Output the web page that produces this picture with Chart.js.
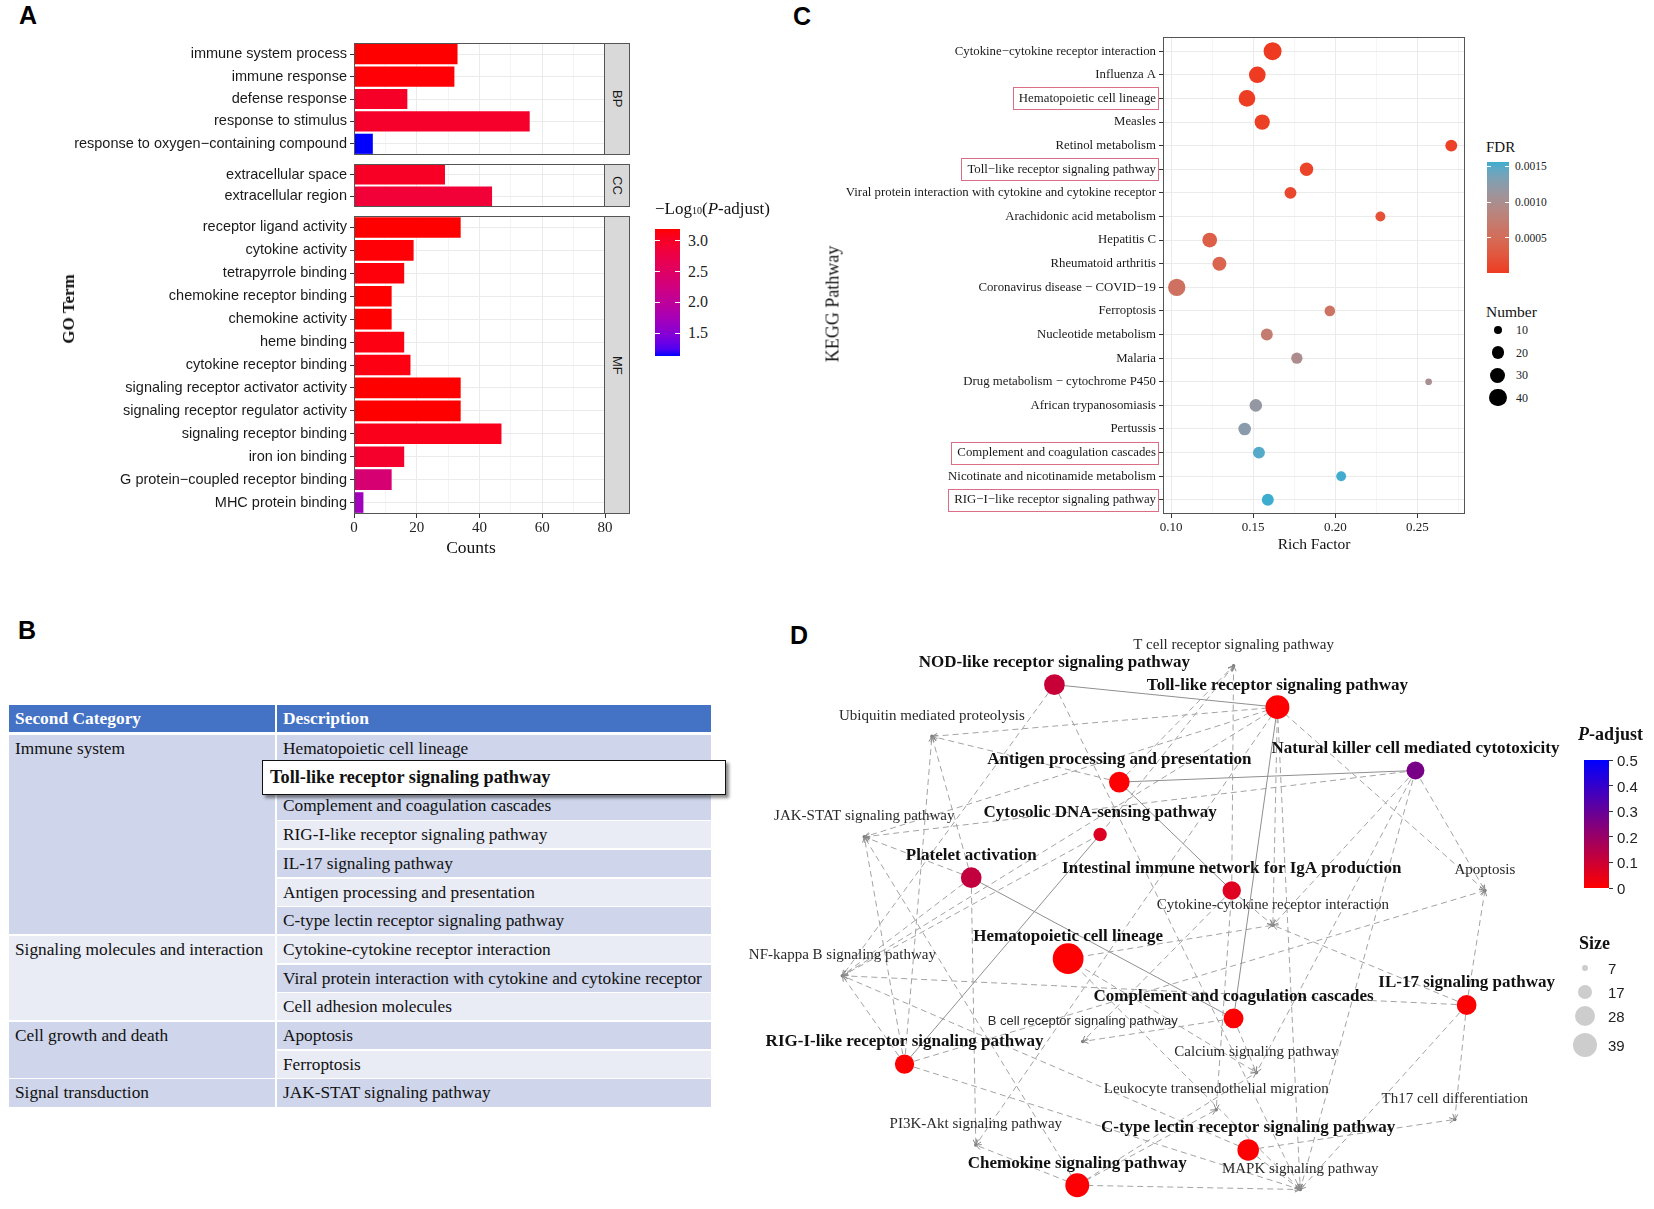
<!DOCTYPE html>
<html lang="en">
<head>
<meta charset="UTF-8">
<title>GO / KEGG enrichment</title>
<script src="https://cdn.jsdelivr.net/npm/chart.js"></script>
<style>
  body { margin: 0; background: #fff; }
  #page { position: relative; width: 1654px; height: 1209px; overflow: hidden; background: #fff;
          font-family: 'Liberation Serif', 'Times New Roman', serif; color: #111; }
  canvas { position: absolute; }
  .letter { position: absolute; font: bold 25px 'Liberation Sans', Arial, sans-serif; line-height: 25px; color: #000; }
  .txt { position: absolute; line-height: 1; white-space: nowrap; }
  .strip { position: absolute; background: #d9d9d9; border: 1px solid #555; box-sizing: border-box;
           writing-mode: vertical-rl; display: flex; align-items: center; justify-content: center;
           font: 13px 'Liberation Sans', Arial, sans-serif; color: #1a1a1a; }
  .cell { position: absolute; box-sizing: border-box; padding-left: 6px; font-size: 17.3px; color: #111; white-space: nowrap; }
</style>
</head>
<body>
<div id="page">
  <div class="letter" style="left:19px;top:3px">A</div>
  <div class="letter" style="left:18px;top:618px">B</div>
  <div class="letter" style="left:793px;top:4px">C</div>
  <div class="letter" style="left:790px;top:623px">D</div>

  <!-- each canvas extends 12px above (and below) its panel; layout padding puts the plot back in place -->
  <canvas id="goBP" width="625" height="136" style="left:0;top:31px"></canvas>
  <canvas id="goCC" width="625" height="67" style="left:0;top:152px"></canvas>
  <canvas id="goMF" width="625" height="350" style="left:0;top:204px"></canvas>
  <div class="strip" style="left:604px;top:43px;width:26px;height:112px">BP</div>
  <div class="strip" style="left:604px;top:164px;width:26px;height:43px">CC</div>
  <div class="strip" style="left:604px;top:216px;width:26px;height:298px">MF</div>

  <canvas id="kegg" width="671" height="529" style="left:800px;top:25px"></canvas>
  <canvas id="net" width="914" height="609" style="left:740px;top:600px"></canvas>
</div>

<script>
// ---------------- panel A: GO terms ----------------
const goBPTerms = ['immune system process', 'immune response', 'defense response', 'response to stimulus',
  'response to oxygen\u2212containing compound'];
const goBPCounts = [33, 32, 17, 56, 6];
const goBPLogP = [3.19, 3.17, 3.0, 2.98, 1.13];

const goCCTerms = ['extracellular space', 'extracellular region'];
const goCCCounts = [29, 44];
const goCCLogP = [3.02, 2.88];

const goMFTerms = ['receptor ligand activity', 'cytokine activity', 'tetrapyrrole binding', 'chemokine receptor binding',
  'chemokine activity', 'heme binding', 'cytokine receptor binding', 'signaling receptor activator activity',
  'signaling receptor regulator activity', 'signaling receptor binding', 'iron ion binding',
  'G protein\u2212coupled receptor binding', 'MHC protein binding'];
const goMFCounts = [34, 19, 16, 12, 12, 16, 18, 34, 34, 47, 16, 12, 3];
const goMFLogP = [3.19, 3.17, 3.15, 3.19, 3.19, 3.13, 3.13, 3.19, 3.19, 3.08, 2.96, 2.35, 1.7];

const countTicks = [0, 10, 20, 30, 40, 50, 60, 70, 80];
const countLabelStep = 20;
const logPTicks = [1.5, 2.0, 2.5, 3.0];

// ---------------- panel B: table ----------------
const tableHeader = ['Second Category', 'Description'];
const tableGroups = ['Immune system', 'Signaling molecules and interaction', 'Cell growth and death', 'Signal transduction'];
const tableGroupRows = [7, 3, 2, 1];
const tableDescriptions = ['Hematopoietic cell lineage', 'Toll-like receptor signaling pathway',
  'Complement and coagulation cascades', 'RIG-I-like receptor signaling pathway', 'IL-17 signaling pathway',
  'Antigen processing and presentation', 'C-type lectin receptor signaling pathway',
  'Cytokine-cytokine receptor interaction', 'Viral protein interaction with cytokine and cytokine receptor',
  'Cell adhesion molecules', 'Apoptosis', 'Ferroptosis', 'JAK-STAT signaling pathway'];
const tableHighlight = 'Toll-like receptor signaling pathway';

// ---------------- panel C: KEGG dot plot ----------------
const keggTerms = ['Cytokine\u2212cytokine receptor interaction', 'Influenza A', 'Hematopoietic cell lineage', 'Measles',
  'Retinol metabolism', 'Toll\u2212like receptor signaling pathway',
  'Viral protein interaction with cytokine and cytokine receptor', 'Arachidonic acid metabolism', 'Hepatitis C',
  'Rheumatoid arthritis', 'Coronavirus disease \u2212 COVID\u221219', 'Ferroptosis', 'Nucleotide metabolism', 'Malaria',
  'Drug metabolism \u2212 cytochrome P450', 'African trypanosomiasis', 'Pertussis',
  'Complement and coagulation cascades', 'Nicotinate and nicotinamide metabolism',
  'RIG\u2212I\u2212like receptor signaling pathway'];
const keggRich = [0.1618, 0.1525, 0.1462, 0.1555, 0.2707, 0.1825, 0.1727, 0.2275, 0.1235, 0.1294,
  0.1034, 0.1967, 0.1583, 0.1766, 0.2569, 0.1516, 0.1448, 0.1535, 0.2036, 0.1589];
const keggNumber = [43, 37, 37, 31, 19, 24, 19, 13, 29, 26, 40, 15, 19, 17, 6, 21, 21, 19, 13, 19];
const keggFDR = [0.00001, 0.00002, 0.00003, 0.00005, 0.00006, 0.00008, 0.00012, 0.00019, 0.00035, 0.00040,
  0.00057, 0.00060, 0.00072, 0.00098, 0.00102, 0.00118, 0.00125, 0.00150, 0.00155, 0.00156];
const keggHighlight = ['Hematopoietic cell lineage', 'Toll\u2212like receptor signaling pathway',
  'Complement and coagulation cascades', 'RIG\u2212I\u2212like receptor signaling pathway'];
const richTicks = [0.10, 0.125, 0.15, 0.175, 0.20, 0.225, 0.25, 0.275];
const fdrTicks = [0.0005, 0.0010, 0.0015];
const numberBreaks = [10, 20, 30, 40];

// ---------------- panel D: pathway network ----------------
const netNodes = ['NOD-like receptor signaling pathway', 'Toll-like receptor signaling pathway',
  'Natural killer cell mediated cytotoxicity', 'Antigen processing and presentation', 'Cytosolic DNA-sensing pathway',
  'Platelet activation', 'Intestinal immune network for IgA production', 'Hematopoietic cell lineage',
  'Complement and coagulation cascades', 'IL-17 signaling pathway', 'RIG-I-like receptor signaling pathway',
  'C-type lectin receptor signaling pathway', 'Chemokine signaling pathway',
  'T cell receptor signaling pathway', 'Ubiquitin mediated proteolysis', 'JAK-STAT signaling pathway', 'Apoptosis',
  'Cytokine-cytokine receptor interaction', 'NF-kappa B signaling pathway', 'B cell receptor signaling pathway',
  'Calcium signaling pathway', 'Leukocyte transendothelial migration', 'Th17 cell differentiation',
  'PI3K-Akt signaling pathway', 'MAPK signaling pathway'];
// layout coordinates (0-100 units)
const netX = [34.4, 58.8, 73.9, 41.5, 39.4, 25.3, 53.8, 35.9, 54.0, 79.5, 18.0, 55.6, 36.9,
  54.0, 21.0, 13.6, 81.5, 58.3, 11.2, 37.5, 56.5, 52.1, 78.2, 25.8, 61.3];
const netY = [86.1, 82.4, 72.0, 70.1, 61.5, 54.4, 52.3, 41.1, 31.3, 33.5, 23.8, 9.7, 3.9,
  89.2, 77.6, 61.1, 52.3, 46.6, 38.3, 27.5, 22.4, 16.3, 14.7, 10.5, 3.2];
const netSize = [29, 37, 23, 29, 15, 29, 24, 58, 27, 27, 26, 31, 37,
  null, null, null, null, null, null, null, null, null, null, null, null];
const netPadj = [0.11, 0.001, 0.265, 0.002, 0.065, 0.12, 0.06, 0.001, 0.002, 0.003, 0.004, 0.004, 0.006,
  null, null, null, null, null, null, null, null, null, null, null, null];
const netSolidEdges = [[0, 1], [3, 2], [3, 6], [1, 8], [5, 8], [4, 10]];
const netArrowEdges = [
  [1, 14], [1, 15], [1, 16], [1, 17], [1, 18], [1, 23], [1, 24],
  [0, 18], [0, 24],
  [2, 15], [2, 16], [2, 17], [2, 20], [2, 24],
  [3, 13], [3, 14],
  [4, 18], [4, 13],
  [5, 23], [5, 18], [5, 14], [5, 15],
  [6, 13], [6, 19], [6, 17], [6, 21],
  [7, 17], [7, 20], [7, 24],
  [8, 19], [8, 20],
  [9, 16], [9, 17], [9, 18], [9, 22], [9, 24],
  [10, 14], [10, 15], [10, 18], [10, 24], [10, 16],
  [11, 22], [11, 24], [11, 18],
  [12, 24], [12, 20], [12, 15], [12, 21], [12, 23]
];
const padjTicks = [0, 0.1, 0.2, 0.3, 0.4, 0.5];
const sizeBreaks = [7, 17, 28, 39];

// ---------------- helpers ----------------
const SERIF = "'Liberation Serif', 'Times New Roman', serif";
const SANS = "'Liberation Sans', Arial, sans-serif";
const page = document.getElementById('page');

function hex2rgb(h) { const n = parseInt(h.slice(1), 16); return [(n >> 16) & 255, (n >> 8) & 255, n & 255]; }
function lin(c) { c /= 255; return c <= 0.04045 ? c / 12.92 : Math.pow((c + 0.055) / 1.055, 2.4); }
function gam(c) {
  c = c <= 0.0031308 ? 12.92 * c : 1.055 * Math.pow(Math.max(c, 0), 1 / 2.4) - 0.055;
  return Math.round(Math.min(1, Math.max(0, c)) * 255);
}
function rgb2lab(rgb) {
  const [r, g, b] = rgb.map(lin);
  const x = (0.4124 * r + 0.3576 * g + 0.1805 * b) / 0.95047;
  const y = 0.2126 * r + 0.7152 * g + 0.0722 * b;
  const z = (0.0193 * r + 0.1192 * g + 0.9505 * b) / 1.08883;
  const f = t => t > 0.008856 ? Math.cbrt(t) : 7.787 * t + 16 / 116;
  return [116 * f(y) - 16, 500 * (f(x) - f(y)), 200 * (f(y) - f(z))];
}
function lab2rgb([L, a, bb]) {
  const fy = (L + 16) / 116, fx = fy + a / 500, fz = fy - bb / 200;
  const fi = t => t * t * t > 0.008856 ? t * t * t : (t - 16 / 116) / 7.787;
  const x = fi(fx) * 0.95047, y = fi(fy), z = fi(fz) * 1.08883;
  const r = 3.2406 * x - 1.5372 * y - 0.4986 * z;
  const g = -0.9689 * x + 1.8758 * y + 0.0415 * z;
  const b = 0.0557 * x - 0.2040 * y + 1.0570 * z;
  return `rgb(${gam(r)},${gam(g)},${gam(b)})`;
}
function labRamp(lo, hi) {
  const A = rgb2lab(hex2rgb(lo)), B = rgb2lab(hex2rgb(hi));
  return t => { t = Math.min(1, Math.max(0, t)); return lab2rgb(A.map((v, i) => v + (B[i] - v) * t)); };
}
function rgbRamp(lo, hi) {
  const A = hex2rgb(lo), B = hex2rgb(hi);
  return t => { t = Math.min(1, Math.max(0, t)); const c = A.map((v, i) => Math.round(v + (B[i] - v) * t)); return `rgb(${c})`; };
}

function addText(html, css) {
  const d = document.createElement('div');
  d.className = 'txt';
  d.innerHTML = html;
  Object.assign(d.style, css);
  page.appendChild(d);
  return d;
}
function addBox(css) {
  const d = document.createElement('div');
  d.style.position = 'absolute';
  Object.assign(d.style, css);
  page.appendChild(d);
  return d;
}

// vertical colour bar legend; ramp(1) is at the top
function addColorbar(o) {
  const stops = [];
  for (let k = 0; k <= 20; k++) stops.push(o.ramp(1 - k / 20) + ' ' + (k * 5) + '%');
  addBox({ left: o.left + 'px', top: o.top + 'px', width: o.width + 'px', height: o.height + 'px',
    background: 'linear-gradient(to bottom,' + stops.join(',') + ')' });
  o.ticks.forEach(v => {
    const yy = o.top + (o.vmax - v) / (o.vmax - o.vmin) * o.height;
    if (o.outerTicks) {
      addBox({ left: (o.left + o.width) + 'px', top: (yy - 0.5) + 'px', width: '4px', height: '1px', background: '#333' });
    } else {
      const w = o.width / 5;
      addBox({ left: o.left + 'px', top: (yy - 0.5) + 'px', width: w + 'px', height: '1px', background: '#fff' });
      addBox({ left: (o.left + o.width - w) + 'px', top: (yy - 0.5) + 'px', width: w + 'px', height: '1px', background: '#fff' });
    }
    addText(o.fmt(v), { left: (o.left + o.width + o.gap) + 'px', top: yy + 'px', transform: 'translateY(-50%)',
      font: o.font, color: '#222' });
  });
}

Chart.defaults.animation = false;
Chart.defaults.responsive = false;
Chart.defaults.events = [];
Chart.defaults.plugins.legend.display = false;
Chart.defaults.plugins.tooltip.enabled = false;

const panelBorder = {
  id: 'panelBorder',
  afterDraw(chart) {
    const { ctx, chartArea: a } = chart;
    ctx.save();
    ctx.strokeStyle = '#555';
    ctx.lineWidth = 1;
    ctx.strokeRect(Math.round(a.left) + 0.5, Math.round(a.top) + 0.5,
      Math.round(a.right - a.left) - 1, Math.round(a.bottom - a.top) - 1);
    ctx.restore();
  }
};

// ---------------- panel A ----------------
const allLogP = goBPLogP.concat(goCCLogP, goMFLogP);
const logPMin = Math.min(...allLogP), logPMax = Math.max(...allLogP);
const goRamp = labRamp('#0000FF', '#FF0000');
const goColor = v => goRamp((v - logPMin) / (logPMax - logPMin));
const isCountMajor = v => v % countLabelStep === 0;

function goPanel(id, terms, counts, logp, showX) {
  return new Chart(document.getElementById(id), {
    type: 'bar',
    data: {
      labels: terms,
      datasets: [{ data: counts, backgroundColor: logp.map(goColor), borderWidth: 0,
        categoryPercentage: 0.9, barPercentage: 1 }]
    },
    options: {
      indexAxis: 'y',
      layout: { padding: { top: 12, bottom: showX ? 0 : 12, right: 20 } },
      scales: {
        x: {
          type: 'linear', min: countTicks[0], max: countTicks[countTicks.length - 1],
          afterBuildTicks: s => { s.ticks = countTicks.map(v => ({ value: v })); },
          afterFit: s => { s.height = showX ? 40 : 0; },
          border: { display: false },
          grid: {
            color: c => (c.tick && !isCountMajor(c.tick.value)) ? '#f4f4f4' : '#ebebeb',
            tickColor: c => (c.tick && !isCountMajor(c.tick.value)) ? 'rgba(0,0,0,0)' : '#333',
            tickLength: 4, drawTicks: showX
          },
          ticks: { display: showX, autoSkip: false, maxRotation: 0, padding: 1,
            callback: v => isCountMajor(v) ? v : '', font: { family: SERIF, size: 15 }, color: '#222' }
        },
        y: {
          afterFit: s => { s.width = 354; },
          border: { display: false },
          grid: { offset: false, color: '#ebebeb', tickColor: '#333', tickLength: 4 },
          ticks: { autoSkip: false, padding: 3, font: { family: SANS, size: 14.5 }, color: '#1a1a1a' }
        }
      }
    },
    plugins: [panelBorder]
  });
}
goPanel('goBP', goBPTerms, goBPCounts, goBPLogP, false);
goPanel('goCC', goCCTerms, goCCCounts, goCCLogP, false);
goPanel('goMF', goMFTerms, goMFCounts, goMFLogP, true);

addText('Counts', { left: '471px', top: '547px', transform: 'translate(-50%,-50%)', font: '17.5px ' + SERIF });
addText('GO Term', { left: '69px', top: '309px', transform: 'translate(-50%,-50%) rotate(-90deg)', font: 'bold 17px ' + SERIF });
addText('\u2212Log<span style="font-size:10px">10</span>(<i>P</i>-adjust)',
  { left: '655px', top: '209px', transform: 'translateY(-50%)', font: '17px ' + SERIF });
addColorbar({ left: 655, top: 229, width: 25, height: 127, ramp: t => goRamp(t), vmin: logPMin, vmax: logPMax,
  ticks: logPTicks, fmt: v => v.toFixed(1), gap: 8, font: '16px ' + SERIF });

// ---------------- panel B ----------------
(function buildTable() {
  const left = 9, col1 = 266, col2Left = 277, col2 = 434, headTop = 705, headH = 27;
  const rowTop = 735, pitch = 28.7, rowH = 27.2;
  const dark = '#CFD5EA', light = '#E9EBF5';
  const groupFill = [dark, light, dark, dark];
  function cell(text, x, y, w, h, bg, extra) {
    const d = document.createElement('div');
    d.className = 'cell';
    d.textContent = text;
    Object.assign(d.style, { left: x + 'px', top: y + 'px', width: w + 'px', height: h + 'px',
      background: bg, lineHeight: Math.min(h, rowH) + 'px' }, extra || {});
    page.appendChild(d);
  }
  const head = { color: '#fff', fontWeight: 'bold', fontSize: '17.4px', lineHeight: headH + 'px' };
  cell(tableHeader[0], left, headTop, col1, headH, '#4472C4', head);
  cell(tableHeader[1], col2Left, headTop, col2, headH, '#4472C4', head);
  let r = 0;
  tableGroups.forEach((g, gi) => {
    const n = tableGroupRows[gi];
    cell(g, left, rowTop + r * pitch, col1, n * pitch - (pitch - rowH), groupFill[gi]);
    r += n;
  });
  tableDescriptions.forEach((t, i) => {
    cell(t, col2Left, rowTop + i * pitch, col2, rowH, i % 2 === 0 ? dark : light);
  });
  // highlighted row drawn as a raised box
  const hi = tableDescriptions.indexOf(tableHighlight);
  const box = document.createElement('div');
  box.className = 'cell';
  box.textContent = tableHighlight;
  Object.assign(box.style, { left: '262px', top: (rowTop + hi * pitch - 4) + 'px', width: '464px', height: '35px',
    background: '#fff', border: '1.5px solid #111', boxShadow: '3px 3px 3px rgba(0,0,0,0.45)',
    fontWeight: 'bold', fontSize: '18.3px', lineHeight: '32px', paddingLeft: '7px' });
  page.appendChild(box);
})();

// ---------------- panel C ----------------
const fdrMin = Math.min(...keggFDR), fdrMax = Math.max(...keggFDR);
const keggRamp = labRamp('#EE3A20', '#3DADCF');
const fdrColor = f => keggRamp((f - fdrMin) / (fdrMax - fdrMin));
const numberRadius = n => 1.37 * Math.sqrt(n);
const richSpan = Math.max(...keggRich) - Math.min(...keggRich);
const richMin = Math.min(...keggRich) - 0.05 * richSpan, richMax = Math.max(...keggRich) + 0.05 * richSpan;
const isRichMajor = v => Math.round(v * 1000) % 50 === 0;
const KEGG_FONT = 12.8;

const keggBoxes = {
  id: 'keggBoxes',
  afterDraw(chart) {
    const { ctx } = chart, ys = chart.scales.y;
    ctx.save();
    ctx.font = KEGG_FONT + 'px ' + SERIF;
    ctx.strokeStyle = '#dc6d86';
    ctx.lineWidth = 1;
    const right = ys.right - 4 - 3;
    keggHighlight.forEach(name => {
      const i = keggTerms.indexOf(name);
      const w = ctx.measureText(name).width;
      const yy = ys.getPixelForValue(i);
      ctx.strokeRect(Math.round(right - w - 6) + 0.5, Math.round(yy - 11) + 0.5, Math.round(w + 8), 22);
    });
    ctx.restore();
  }
};

new Chart(document.getElementById('kegg'), {
  type: 'scatter',
  data: {
    datasets: [{
      data: keggRich.map((x, i) => ({ x, y: i })),
      pointRadius: keggNumber.map(numberRadius),
      backgroundColor: keggFDR.map(fdrColor),
      borderWidth: 0
    }]
  },
  options: {
    layout: { autoPadding: false, padding: { top: 12, right: 6 } },
    scales: {
      x: {
        type: 'linear', min: richMin, max: richMax,
        afterBuildTicks: s => { s.ticks = richTicks.filter(v => v >= richMin && v <= richMax).map(v => ({ value: v })); },
        afterFit: s => { s.height = 40; },
        border: { display: false },
        grid: {
          color: c => (c.tick && !isRichMajor(c.tick.value)) ? '#f5f5f5' : '#ebebeb',
          tickColor: c => (c.tick && !isRichMajor(c.tick.value)) ? 'rgba(0,0,0,0)' : '#333',
          tickLength: 4
        },
        ticks: { autoSkip: false, maxRotation: 0, padding: 2, callback: v => isRichMajor(v) ? v.toFixed(2) : '',
          font: { family: SERIF, size: 13 }, color: '#222' }
      },
      y: {
        type: 'linear', reverse: true, min: -0.6, max: keggTerms.length - 0.4,
        afterBuildTicks: s => { s.ticks = keggTerms.map((t, i) => ({ value: i })); },
        afterFit: s => { s.width = 363; },
        border: { display: false },
        grid: { color: '#ebebeb', tickColor: '#333', tickLength: 4 },
        ticks: { autoSkip: false, padding: 3, callback: v => keggTerms[v], font: { family: SERIF, size: KEGG_FONT }, color: '#1a1a1a' }
      }
    }
  },
  plugins: [panelBorder, keggBoxes]
});

addText('Rich Factor', { left: '1314px', top: '544px', transform: 'translate(-50%,-50%)', font: '15.5px ' + SERIF });
addText('KEGG Pathway', { left: '833px', top: '304px', transform: 'translate(-50%,-50%) rotate(-90deg)', font: '18px ' + SERIF });
addText('FDR', { left: '1486px', top: '147px', transform: 'translateY(-50%)', font: '15px ' + SERIF });
addColorbar({ left: 1487, top: 162, width: 22, height: 111, ramp: t => keggRamp(t), vmin: fdrMin, vmax: fdrMax,
  ticks: fdrTicks, fmt: v => v.toFixed(4), gap: 6, font: '11.5px ' + SERIF });
addText('Number', { left: '1486px', top: '312px', transform: 'translateY(-50%)', font: '15.5px ' + SERIF });
numberBreaks.forEach((n, k) => {
  const r = numberRadius(n), cy = 330 + k * 22.6;
  addBox({ left: (1498 - r) + 'px', top: (cy - r) + 'px', width: 2 * r + 'px', height: 2 * r + 'px',
    borderRadius: '50%', background: '#000' });
  addText(String(n), { left: '1516px', top: cy + 'px', transform: 'translateY(-50%)', font: '12px ' + SERIF, color: '#222' });
});

// ---------------- panel D ----------------
const padjRamp = rgbRamp('#FF0000', '#0000FF');
const padjMax = padjTicks[padjTicks.length - 1];
const padjColor = p => padjRamp(p / padjMax);
const sizeRadius = s => s == null ? 1.8 : Math.sqrt(Math.max(0, -22.1 + 4.447 * s));
const nodePt = i => ({ x: netX[i], y: netY[i] });

const netDatasets = [{
  data: netNodes.map((n, i) => nodePt(i)),
  pointRadius: netSize.map(sizeRadius),
  backgroundColor: netSize.map((s, i) => s == null ? '#7a7a7a' : padjColor(netPadj[i])),
  borderWidth: 0,
  order: 0
}];
netSolidEdges.forEach(([a, b]) => netDatasets.push({
  data: [nodePt(a), nodePt(b)], showLine: true, borderColor: '#8f8f8f', borderWidth: 1, pointRadius: 0, order: 1
}));
netArrowEdges.forEach(([a, b]) => netDatasets.push({
  data: [nodePt(a), nodePt(b)], showLine: true, borderColor: '#a3a3a3', borderWidth: 1, borderDash: [6, 4],
  pointRadius: 0, order: 2
}));

const netDecor = {
  id: 'netDecor',
  afterDatasetsDraw(chart) {
    const { ctx } = chart, xs = chart.scales.x, ys = chart.scales.y;
    const px = i => xs.getPixelForValue(netX[i]), py = i => ys.getPixelForValue(netY[i]);
    ctx.save();
    // arrow heads
    ctx.strokeStyle = '#8a8a8a';
    ctx.lineWidth = 1;
    netArrowEdges.forEach(([a, b]) => {
      const ang = Math.atan2(py(b) - py(a), px(b) - px(a));
      ctx.beginPath();
      [-0.45, 0.45].forEach(d => {
        ctx.moveTo(px(b), py(b));
        ctx.lineTo(px(b) - 6 * Math.cos(ang + d), py(b) - 6 * Math.sin(ang + d));
      });
      ctx.stroke();
    });
    // labels
    ctx.textAlign = 'center';
    ctx.textBaseline = 'middle';
    netNodes.forEach((name, i) => {
      const big = netSize[i] != null;
      if (big) ctx.font = 'bold 17px ' + SERIF;
      else if (name.startsWith('B cell')) ctx.font = '13px ' + SANS;
      else ctx.font = '15px ' + SERIF;
      ctx.fillStyle = big ? '#111' : '#2a2a2a';
      ctx.fillText(name, px(i), py(i) - (big ? 22 : 20.5));
    });
    ctx.restore();
  }
};

new Chart(document.getElementById('net'), {
  type: 'scatter',
  data: { datasets: netDatasets },
  options: {
    layout: { autoPadding: false, padding: 0 },
    scales: {
      x: { type: 'linear', min: 0, max: 100, display: false },
      y: { type: 'linear', min: 0, max: 100, display: false }
    }
  },
  plugins: [netDecor]
});

addText('<i>P</i>-adjust', { left: '1578px', top: '734px', transform: 'translateY(-50%)', font: 'bold 18px ' + SERIF });
addColorbar({ left: 1584, top: 760, width: 25, height: 128, ramp: t => padjRamp(t), vmin: 0, vmax: padjMax,
  ticks: padjTicks, fmt: v => v === 0 ? '0' : v.toFixed(1), gap: 8, font: '15px ' + SANS, outerTicks: true });
addText('Size', { left: '1579px', top: '943px', transform: 'translateY(-50%)', font: 'bold 18px ' + SERIF });
const sizeLegendY = [968, 992, 1016, 1045];
sizeBreaks.forEach((s, k) => {
  const r = sizeRadius(s), cy = sizeLegendY[k];
  addBox({ left: (1585 - r) + 'px', top: (cy - r) + 'px', width: 2 * r + 'px', height: 2 * r + 'px',
    borderRadius: '50%', background: '#cdcdcd' });
  addText(String(s), { left: '1608px', top: cy + 'px', transform: 'translateY(-50%)', font: '15px ' + SANS, color: '#222' });
});
</script>
</body>
</html>
